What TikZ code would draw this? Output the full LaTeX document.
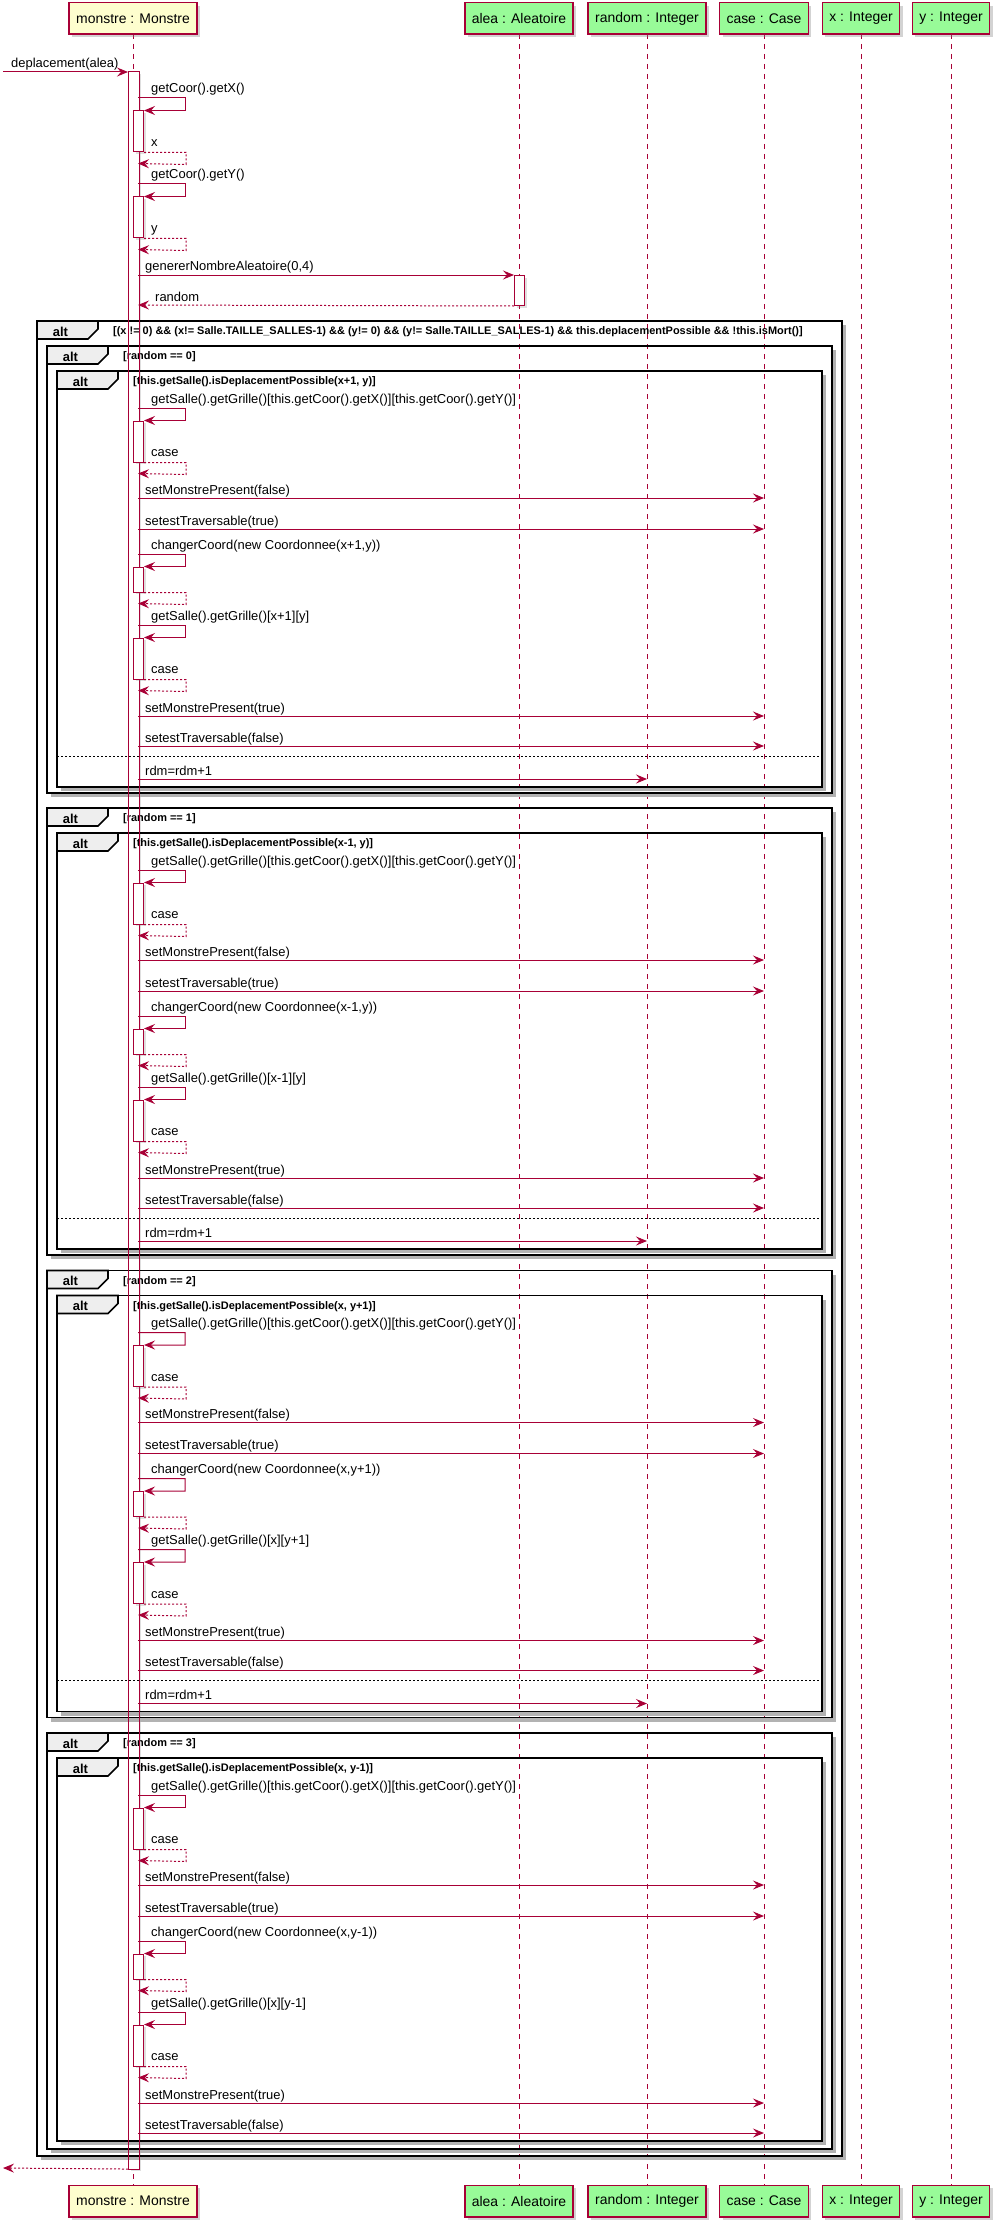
\documentclass[tikz,border=0pt]{standalone}
\usepackage{fontspec}
\setmainfont{Liberation Sans}
\usetikzlibrary{arrows.meta,shadows,positioning}
\definecolor{umlred}{HTML}{A80036}
\definecolor{umlyellow}{HTML}{FEFECE}
\definecolor{umlgreen}{HTML}{98FB98}
\definecolor{tabgray}{HTML}{EEEEEE}
\tikzset{
    box/.style = {draw=umlred, line width=1.5bp, inner xsep=7bp, minimum height=31.5bp,
        font=\fontsize{14}{16}\selectfont, drop shadow={shadow xshift=3bp,shadow yshift=-3bp,opacity=.35}},
    actor/.style = {box, fill=umlyellow},
    obj/.style = {box, fill=umlgreen},
    lifeline/.style = {draw=umlred, line width=1bp, dash pattern=on 5bp off 5bp},
    act/.style = {rectangle, draw=umlred, fill=white, line width=1bp, minimum width=10bp, inner sep=0pt,
        anchor=north west, drop shadow={shadow xshift=2bp,shadow yshift=-2bp,opacity=.25}},
    msg/.style = {draw=umlred, line width=1bp, -{Stealth[length=11bp,width=9bp,inset=4bp]}},
    ret/.style = {msg, dash pattern=on 2bp off 2bp},
    lbl/.style = {anchor=base west, inner sep=0pt, font=\fontsize{13}{15}\selectfont},
    guard/.style = {anchor=base west, inner sep=0pt, font=\fontsize{11}{13}\selectfont\bfseries},
    tabtext/.style = {anchor=base, inner sep=0pt, font=\fontsize{13}{15}\selectfont\bfseries},
    frame/.style = {draw=black, line width=1.6bp},
    fshadow/.style = {fill=black!30},
    sep/.style = {draw=black, line width=1bp, dash pattern=on 2bp off 2bp}
}
% alt frame: left, top, right, bottom, guard
\newcommand{\altframe}[5]{
    \fill[fshadow] (#3,#2+4) rectangle (#3+4,#4+4);
    \fill[fshadow] (#1+4,#4) rectangle (#3+4,#4+4);
    \draw[frame] (#1,#2) rectangle (#3,#4);
    \filldraw[frame, fill=tabgray] (#1,#2) -- (#1+61,#2) -- (#1+61,#2+8) -- (#1+51,#2+18) -- (#1,#2+18) -- cycle;
    \node[tabtext] at (#1+23.5,#2+15) {alt};
    \node[guard] at (#1+76,#2+13.5) {#5};
}
% self call on monstre: name, top, label, activation height, return label
\newcommand{\selfcall}[5]{
    \coordinate (#1s) at (138,#2);
    \node[act, minimum height=#4bp] (#1a) at (133,#2+12.5) {};
    \draw[msg] (#1s) -- ++(47,0) -- ++(0,12.5) -- (#1a.north east);
    \node[lbl] at (151,#2-5) {#3};
    \coordinate (#1r) at (138,#2+12.5+#4+12);
    \draw[ret] (#1a.south east) -- ++(42,0) -- ++(0,12) -- (#1r);
    \node[lbl] at (151,#2+12.5+#4-5) {#5};
}
% message from monstre to case
\newcommand{\tocase}[3]{
    \coordinate (#1) at (138,#2);
    \draw[msg] (#1) -- (case |- #1);
    \node[lbl] at (145,#2-4) {#3};
}

\begin{document}
\begin{tikzpicture}[x=1bp,y=-1bp]
    \useasboundingbox (0,0) rectangle (998,2227);

    % lifelines
    \foreach \p/\px in {monstre/133,alea/519,random/647,case/764,xint/861,yint/951}
        \draw[lifeline] (\px,34) -- (\px,2185);

    % participants
    \node[actor] (monstre) at (133,18.5) {monstre : Monstre};
    \node[obj] (alea) at (519,18.5) {alea : Aleatoire};
    \node[obj] (random) at (647,18.5) {random : Integer};
    \node[obj] (case) at (764,18.5) {case : Case};
    \node[obj] (xint) at (861,18.5) {x : Integer};
    \node[obj] (yint) at (951,18.5) {y : Integer};
    \node[actor] (monstreB) at (133,2201) {monstre : Monstre};
    \node[obj] (aleaB) at (519,2201) {alea : Aleatoire};
    \node[obj] (randomB) at (647,2201) {random : Integer};
    \node[obj] (caseB) at (764,2201) {case : Case};
    \node[obj] (xintB) at (861,2201) {x : Integer};
    \node[obj] (yintB) at (951,2201) {y : Integer};

    % main activation
    \node[act, draw=none, minimum height=2096bp] (main) at (128,72) {};

    % frames
    \altframe{37}{321}{842}{2156}{[(x != 0) \&\& (x!= Salle.TAILLE\_SALLES-1) \&\& (y!= 0) \&\& (y!= Salle.TAILLE\_SALLES-1) \&\& this.deplacementPossible \&\& !this.isMort()]}
    \foreach \b/\o/\cond in {0/346/{x+1, y},1/808/{x-1, y},2/1270.5/{x, y+1},3/1733/{x, y-1}}{
        \ifnum\b<3 \def\hb{447}\def\hc{441}\else \def\hb{416}\def\hc{408}\fi
        \altframe{47}{\o}{832}{\o+\hb}{[random == \b]}
        \altframe{57}{\o+25}{822}{\o+\hc}{[this.getSalle().isDeplacementPossible(\cond)]}
        \ifnum\b<3 \draw[sep] (57,\o+410) -- (822,\o+410); \fi
    }

    \draw[umlred, line width=1bp] (main.north west) rectangle (main.south east);

    % entry and first calls
    \coordinate (entry) at (3,72);
    \draw[msg] (entry) -- (main.north west);
    \node[lbl] at (11,67.5) {deplacement(alea)};
    \selfcall{gx}{98}{getCoor().getX()}{41}{x}
    \selfcall{gy}{184}{getCoor().getY()}{41}{y}

    \coordinate (gen) at (138,275);
    \node[act, minimum height=30bp] (aleaact) at (514,275) {};
    \draw[msg] (gen) -- (aleaact.north west);
    \node[lbl] at (145,271) {genererNombreAleatoire(0,4)};
    \coordinate (rnd) at (138,305);
    \draw[ret] (aleaact.south west) -- (rnd);
    \node[lbl] at (155,301) {random};

    % the four moves
    \foreach \b/\o/\newc/\cell in {0/346/{x+1,y}/{[x+1][y]},1/808/{x-1,y}/{[x-1][y]},2/1270.5/{x,y+1}/{[x][y+1]},3/1733/{x,y-1}/{[x][y-1]}}{
        \selfcall{g\b}{\o+62}{getSalle().getGrille()[this.getCoor().getX()][this.getCoor().getY()]}{41}{case}
        \tocase{mf\b}{\o+152}{setMonstrePresent(false)}
        \tocase{tt\b}{\o+183}{setestTraversable(true)}
        \selfcall{c\b}{\o+208}{changerCoord(new Coordonnee(\newc))}{25}{}
        \selfcall{n\b}{\o+279}{getSalle().getGrille()\cell}{41}{case}
        \tocase{mt\b}{\o+370}{setMonstrePresent(true)}
        \tocase{tf\b}{\o+400}{setestTraversable(false)}
        \ifnum\b<3
            \coordinate (rdm\b) at (138,\o+433);
            \draw[msg] (rdm\b) -- (random |- rdm\b);
            \node[lbl] at (145,\o+429) {rdm=rdm+1};
        \fi
    }

    % exit
    \coordinate (exit) at (3,2168);
    \draw[ret] (main.south west) -- (exit);
\end{tikzpicture}
\end{document}
